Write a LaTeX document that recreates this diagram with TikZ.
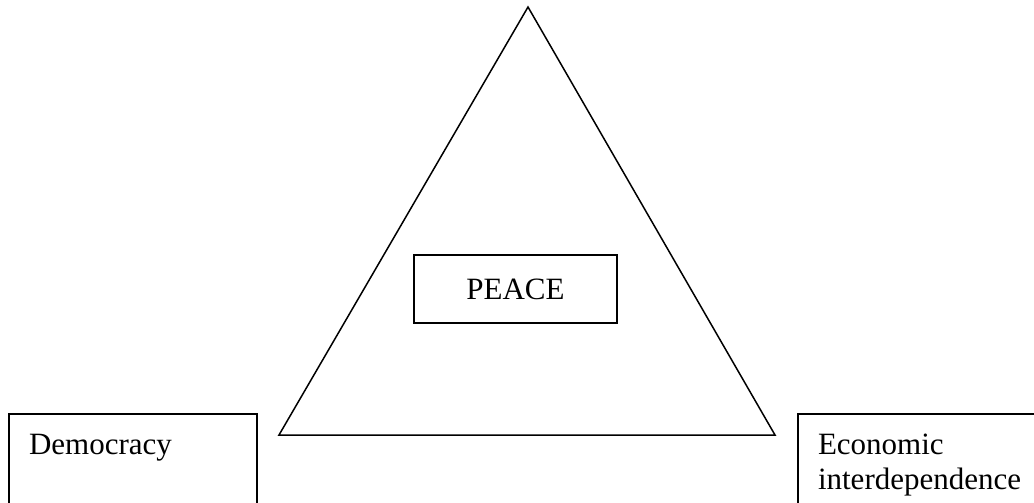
\documentclass[tikz,border=0pt]{standalone}
\usepackage{fontspec}
\setmainfont{Liberation Serif}
\usepackage{tikz}
\usetikzlibrary{positioning}
\tikzset{
  factor/.style={rectangle, draw=black, line width=0.8pt, anchor=north west,
    align=left, inner xsep=8pt, inner ysep=8pt, text width=83pt,
    font=\fontsize{12.4}{14}\selectfont},
  goal/.style={rectangle, draw=black, line width=0.8pt, align=center,
    minimum width=81pt, minimum height=27pt, font=\fontsize{12.4}{14}\selectfont},
  side/.style={line width=0.6pt, line join=miter}
}
\begin{document}
\begin{tikzpicture}[x=0.4pt, y=-0.4pt]
  \useasboundingbox (0,0) rectangle (1034,502);
  \clip (0,0) rectangle (1034,502);

  % triangle corners
  \coordinate (apex) at (528,7);
  \coordinate (left) at (279,435);
  \coordinate (right) at (775,435);
  \draw[side] (apex) -- (left) -- (right) -- cycle;

  \node[goal] (peace) at (515.5,289) {PEACE};
  \node[factor, text depth=40pt] (demo) at (8,413) {Democracy};
  \node[factor, text width=90pt, text depth=20pt] (econ) at (797,413)
    {Economic\\interdependence};
\end{tikzpicture}
\end{document}
